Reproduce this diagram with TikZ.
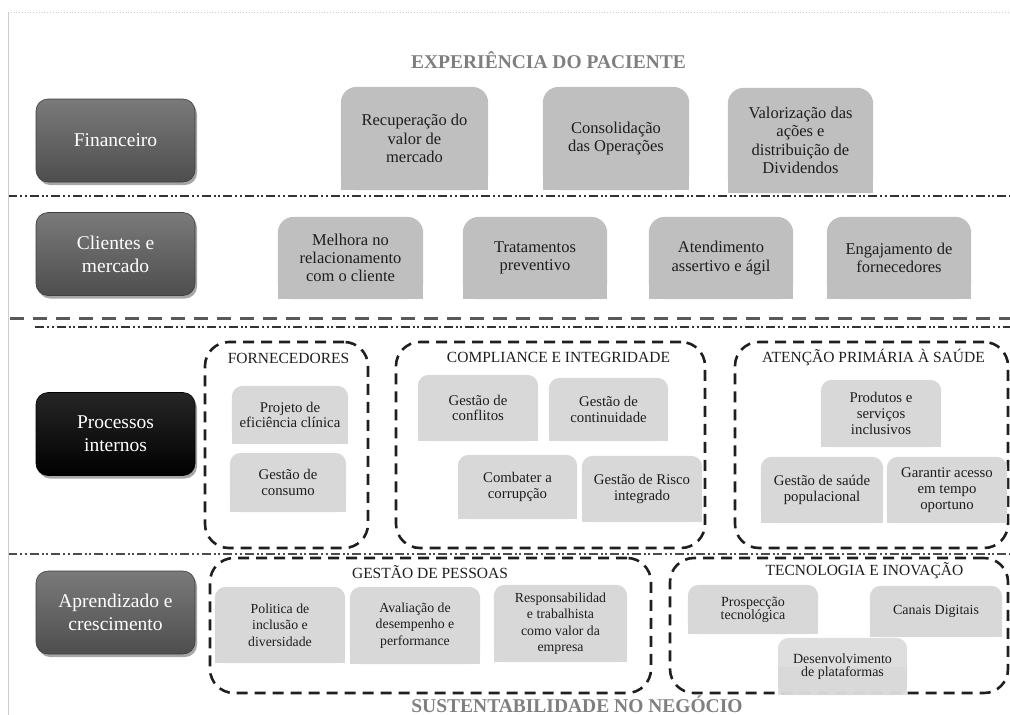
\documentclass[tikz,border=0pt]{standalone}
\usepackage{fontspec}
\setmainfont{Liberation Serif}
\usetikzlibrary{backgrounds,shadows}

\definecolor{sidetop}{HTML}{7A7A7A}
\definecolor{sidebot}{HTML}{4E4E4E}
\definecolor{boxgray}{HTML}{BFBFBF}
\definecolor{cellgray}{HTML}{D8D8D8}
\definecolor{titlegray}{HTML}{7F7F7F}
\definecolor{ink}{HTML}{1E1E1E}

\tikzset{
  sidelabel/.style={rounded corners=12pt, minimum width=159pt, minimum height=83pt,
    inner sep=0pt, align=center, text=white,
    font=\fontsize{19.5}{23}\selectfont,
    top color=sidetop, bottom color=sidebot, draw=sidebot!80!black, line width=0.6pt,
    drop shadow={shadow xshift=2pt, shadow yshift=-3pt, opacity=0.35, fill=black}},
  darklabel/.style={sidelabel, top color=black!85, bottom color=black, draw=black},
  boxtext/.style={inner sep=0pt, align=center, text=ink},
  bigcell/.style={fill=boxgray, rounded corners=16pt},
  smallcell/.style={fill=cellgray, rounded corners=11pt},
  bigfont/.style={font=\fontsize{16.5}{18.3}\selectfont},
  midfont/.style={font=\fontsize{14.8}{15.8}\selectfont},
  learnfont/.style={font=\fontsize{13.8}{16.5}\selectfont},
  techfont/.style={font=\fontsize{14}{13}\selectfont},
  group/.style={draw=black!88, line width=2.6pt, dash pattern=on 11pt off 7pt,
    rounded corners=24pt, inner sep=0pt},
  grouptitle/.style={font=\fontsize{15.5}{17}\selectfont, text=ink, inner sep=0pt},
  headline/.style={font=\fontsize{19.5}{22}\selectfont\bfseries, text=titlegray,
    inner sep=0pt, anchor=base},
  sepdots/.style={line width=2.4pt, draw=black!80,
    dash pattern=on 9pt off 3pt on 2pt off 2.5pt on 2pt off 3pt},
  sepdash/.style={line width=3pt, draw=black!65, dash pattern=on 14pt off 9pt},
  frameline/.style={draw=black!20, line width=0.8pt}
}

% name, centre, width, height, fill style, text style, text
\newcommand{\tabbox}[7]{%
  \node[boxtext,#6,minimum width=#3pt,minimum height=#4pt] (#1) at (#2) {#7};
  \begin{scope}[on background layer]
    \fill[#5] (#1.south west) rectangle (#1.north east);
    \fill[#5,sharp corners] (#1.south west) rectangle (#1.east);
  \end{scope}}

\begin{document}
\begin{tikzpicture}[x=1pt,y=-1pt]
\useasboundingbox (0,0) rectangle (1010,715);

% page frame
\coordinate (ftl) at (8,12);
\coordinate (ftr) at (1010,12);
\coordinate (fbl) at (8,715);
\draw[frameline, dotted] (ftl) -- (ftr);
\draw[frameline] (ftl) -- (fbl);

% row separators and group frames
\begin{scope}[on background layer]
  \coordinate (s1l) at (8,196);   \coordinate (s1r) at (1010,196);
  \coordinate (s2l) at (10,318);  \coordinate (s2r) at (1010,318);
  \coordinate (s3l) at (35,327);  \coordinate (s3r) at (1010,327);
  \coordinate (s4l) at (8,554);   \coordinate (s4r) at (1010,554);
  \draw[sepdots] (s1l) -- (s1r);
  \draw[sepdash] (s2l) -- (s2r);
  \draw[sepdots, line width=2pt] (s3l) -- (s3r);
  \draw[sepdots, line width=1.6pt, draw=black!70] (s4l) -- (s4r);

  \node[group, minimum width=163pt, minimum height=206pt] (gF) at (286.5,445) {};
  \node[group, minimum width=309pt, minimum height=206pt] (gC) at (550.5,445) {};
  \node[group, minimum width=273pt, minimum height=206pt] (gA) at (871.5,445) {};
  \node[group, minimum width=441pt, minimum height=135pt] (gP) at (430.5,625.5) {};
  \node[group, minimum width=338pt, minimum height=135pt] (gT) at (839,625.5) {};
\end{scope}

% headlines
\node[headline] (top) at (548.5,68) {EXPERIÊNCIA DO PACIENTE};
\node[headline] (bottom) at (577,712) {SUSTENTABILIDADE NO NEGÓCIO};

% perspective labels
\node[sidelabel] (fin) at (115.5,140.5) {Financeiro};
\node[sidelabel] (cli) at (115.5,254) {Clientes e\\mercado};
\node[darklabel] (pro) at (115.5,434) {Processos\\internos};
\node[sidelabel] (apr) at (115.5,612.5) {Aprendizado e\\crescimento};

% financial objectives
\tabbox{f1}{414.5,138.5}{147}{103}{bigcell}{bigfont}{Recuperação do\\valor de\\mercado}
\tabbox{f2}{616,138.5}{146}{103}{bigcell}{bigfont}{Consolidação\\das Operações}
\tabbox{f3}{800.5,140.5}{145}{105}{bigcell}{bigfont}{Valorização das\\ações e\\distribuição de\\Dividendos}

% customer objectives
\tabbox{c1}{350.5,258}{145}{82}{bigcell}{bigfont}{Melhora no\\relacionamento\\com o cliente}
\tabbox{c2}{535,258}{144}{82}{bigcell}{bigfont}{Tratamentos\\preventivo}
\tabbox{c3}{721,258}{144}{82}{bigcell}{bigfont}{Atendimento\\assertivo e ágil}
\tabbox{c4}{899,258}{144}{82}{bigcell}{bigfont}{Engajamento de\\fornecedores}

% internal processes
\node[grouptitle] (tF) at (288.5,358) {FORNECEDORES};
\node[grouptitle] (tC) at (558.5,357) {COMPLIANCE E INTEGRIDADE};
\node[grouptitle] (tA) at (873.5,357) {ATENÇÃO PRIMÁRIA À SAÚDE};

\tabbox{p1}{290,415}{116}{58}{smallcell}{midfont}{Projeto de\\eficiência clínica}
\tabbox{p2}{288,482.5}{116}{59}{smallcell}{midfont}{Gestão de\\consumo}
\tabbox{p3}{478,408}{120}{66}{smallcell}{midfont}{Gestão de\\conflitos}
\tabbox{p4}{608.5,409.5}{119}{63}{smallcell}{midfont}{Gestão de\\continuidade}
\tabbox{p5}{517.5,487}{119}{64}{smallcell}{midfont}{Combater a\\corrupção}
\tabbox{p6}{642,489}{120}{66}{smallcell}{midfont}{Gestão de Risco\\integrado}
\tabbox{p7}{881,413.5}{120}{67}{smallcell}{midfont}{Produtos e\\serviços\\inclusivos}
\tabbox{p8}{822,490}{122}{66}{smallcell}{midfont}{Gestão de saúde\\populacional}
\tabbox{p9}{947,490}{120}{66}{smallcell}{midfont}{Garantir acesso\\em tempo\\oportuno}

% learning and growth
\node[grouptitle] (tP) at (430,572) {GESTÃO DE PESSOAS};
\node[grouptitle] (tT) at (864.5,571) {TECNOLOGIA E INOVAÇÃO};

\tabbox{a1}{280,625}{130}{76}{smallcell}{learnfont}{Politica de\\inclusão e\\diversidade}
\tabbox{a2}{415,625.5}{130}{77}{smallcell}{learnfont}{Avaliação de\\desempenho e\\performance}
\tabbox{a3}{560.5,623.5}{133}{77}{smallcell}{learnfont}{Responsabilidad\\e trabalhista\\como valor da\\empresa}
\tabbox{t1}{753,609.5}{130}{49}{smallcell}{techfont}{Prospecção\\tecnológica}
\tabbox{t2}{936,611.5}{132}{51}{smallcell}{techfont}{Canais Digitais}
\tabbox{t3}{842.5,666.5}{129}{57}{smallcell, fill opacity=0.85}{techfont}{Desenvolvimento\\de plataformas}
\end{tikzpicture}
\end{document}
